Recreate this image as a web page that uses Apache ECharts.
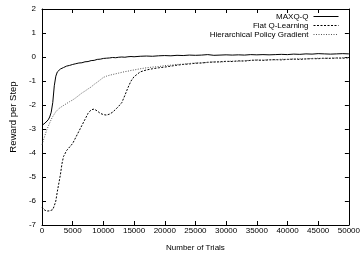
<!DOCTYPE html>
<html>
<head>
<meta charset="utf-8">
<script src="https://cdn.jsdelivr.net/npm/echarts@6/dist/echarts.min.js"></script>
<style>
  html, body { margin: 0; padding: 0; background: #fff; }
  #chart { width: 363px; height: 257px; }
</style>
</head>
<body>
<div id="chart"></div>
<script>
// Reward per step vs number of trials

const trials = [
    0, 250, 500, 750, 1000, 1250, 1500, 1750, 2000, 2250, 2500, 2750, 3000, 3250, 3500,
    4000, 4500, 5000, 5500, 6000, 6500, 7000, 7500, 8000, 8500, 9000, 9500, 10000,
    10500, 11000, 11500, 12000, 12500, 13000, 13500, 14000, 14500, 15000,
    16000, 17000, 18000, 19000, 20000, 21000, 22000, 23000, 24000, 25000,
    26000, 27000, 28000, 29000, 30000, 31000, 32000, 33000, 34000, 35000,
    36000, 37000, 38000, 39000, 40000, 41000, 42000, 43000, 44000, 45000,
    46000, 47000, 48000, 49000, 50000
];

const maxqQ = [
    -2.85, -2.8, -2.75, -2.7, -2.62, -2.5, -2.3, -1.9, -1.2, -0.8, -0.62, -0.55, -0.5, -0.47, -0.44,
    -0.38, -0.35, -0.31, -0.28, -0.25, -0.24, -0.2, -0.19, -0.15, -0.14, -0.1, -0.09, -0.06,
    -0.05, -0.04, -0.02, -0.03, -0.01, 0, -0.01, 0.01, 0.02, 0.01,
    0.03, 0.04, 0.03, 0.05, 0.06, 0.05, 0.07, 0.06, 0.08, 0.07,
    0.08, 0.1, 0.07, 0.08, 0.09, 0.08, 0.09, 0.08, 0.1, 0.09,
    0.1, 0.09, 0.1, 0.11, 0.1, 0.12, 0.11, 0.13, 0.12, 0.14,
    0.13, 0.12, 0.13, 0.14, 0.13
];

const flatQ = [
    -6.25, -6.35, -6.4, -6.42, -6.42, -6.41, -6.4, -6.36, -6.2, -6.0, -5.6, -5.25, -4.9, -4.45, -4.15,
    -3.9, -3.75, -3.6, -3.35, -3.1, -2.85, -2.6, -2.35, -2.2, -2.17, -2.25, -2.35, -2.4,
    -2.42, -2.38, -2.3, -2.18, -2.05, -1.9, -1.6, -1.28, -1.0, -0.82,
    -0.62, -0.54, -0.49, -0.45, -0.42, -0.38, -0.34, -0.31, -0.29, -0.26,
    -0.25, -0.22, -0.21, -0.2, -0.18, -0.19, -0.16, -0.17, -0.14, -0.13,
    -0.14, -0.12, -0.11, -0.12, -0.1, -0.09, -0.1, -0.08, -0.07, -0.07,
    -0.05, -0.06, -0.04, -0.05, -0.03
];

const hierPG = [
    -3.65, -3.45, -3.25, -3.05, -2.9, -2.75, -2.6, -2.48, -2.38, -2.28, -2.2, -2.15, -2.1, -2.06, -2.03,
    -1.94, -1.86, -1.79, -1.7, -1.6, -1.5, -1.42, -1.33, -1.25, -1.14, -1.05, -0.95, -0.85,
    -0.8, -0.76, -0.73, -0.7, -0.67, -0.64, -0.61, -0.59, -0.56, -0.54,
    -0.49, -0.45, -0.42, -0.4, -0.36, -0.34, -0.31, -0.3, -0.27, -0.25,
    -0.24, -0.23, -0.2, -0.21, -0.19, -0.17, -0.18, -0.15, -0.14, -0.12,
    -0.13, -0.11, -0.12, -0.09, -0.1, -0.08, -0.07, -0.08, -0.06, -0.05,
    -0.06, -0.04, -0.05, -0.03, -0.02
];

const seriesNames = ['MAXQ-Q', 'Flat Q-Learning', 'Hierarchical Policy Gradient'];

function pairs(values) {
    return trials.map((t, i) => [t, values[i]]);
}

const font = 'Liberation Sans, Arial, sans-serif';

function axisBase(extra) {
    return Object.assign({
        type: 'value',
        axisLine: { show: true, onZero: false, lineStyle: { color: '#000', width: 1 } },
        axisTick: { show: true, inside: true, length: 4, lineStyle: { color: '#000' } },
        splitLine: { show: false },
        axisLabel: { color: '#000', fontSize: 8, fontFamily: font }
    }, extra);
}

const chart = echarts.init(document.getElementById('chart'), null, { renderer: 'canvas' });

chart.setOption({
    animation: false,
    backgroundColor: '#fff',
    grid: { left: 38, right: 11, top: 9, bottom: 32 },
    legend: {
        data: seriesNames,
        orient: 'vertical',
        right: 19,
        top: 7,
        align: 'right',
        itemWidth: 25,
        itemHeight: 8,
        itemGap: 0,
        itemStyle: { opacity: 0, borderWidth: 0 },
        lineStyle: { width: 1 },
        textStyle: { fontSize: 8, lineHeight: 9, color: '#000', fontFamily: font }
    },
    xAxis: [
        axisBase({
            position: 'bottom', min: 0, max: 50000, interval: 5000,
            axisLabel: { color: '#000', fontSize: 8, fontFamily: font, margin: 2,
                formatter: v => String(v) },
            name: 'Number of Trials', nameLocation: 'middle', nameGap: 19,
            nameTextStyle: { fontSize: 8, color: '#000', fontFamily: font }
        }),
        axisBase({
            position: 'top', min: 0, max: 50000, interval: 5000,
            axisLabel: { show: false }
        })
    ],
    yAxis: [
        axisBase({
            position: 'left', min: -7, max: 2, interval: 1,
            axisLabel: { color: '#000', fontSize: 8, fontFamily: font, margin: 6 },
            name: 'Reward per Step', nameLocation: 'middle', nameGap: 21, nameRotate: 90,
            nameTextStyle: { fontSize: 9.5, color: '#000', fontFamily: font }
        }),
        axisBase({
            position: 'right', min: -7, max: 2, interval: 1,
            axisLabel: { show: false }
        })
    ],
    series: [
        {
            name: seriesNames[0], type: 'line', data: pairs(maxqQ),
            showSymbol: false, symbol: 'none',
            lineStyle: { color: '#000', width: 1, type: 'solid' },
            itemStyle: { color: '#000' }
        },
        {
            name: seriesNames[1], type: 'line', data: pairs(flatQ),
            showSymbol: false, symbol: 'none',
            lineStyle: { color: '#000', width: 1, type: [2, 1.5] },
            itemStyle: { color: '#000' }
        },
        {
            name: seriesNames[2], type: 'line', data: pairs(hierPG),
            showSymbol: false, symbol: 'none',
            lineStyle: { color: '#555', width: 1, type: [1, 1.5] },
            itemStyle: { color: '#555' }
        }
    ]
});
</script>
</body>
</html>
